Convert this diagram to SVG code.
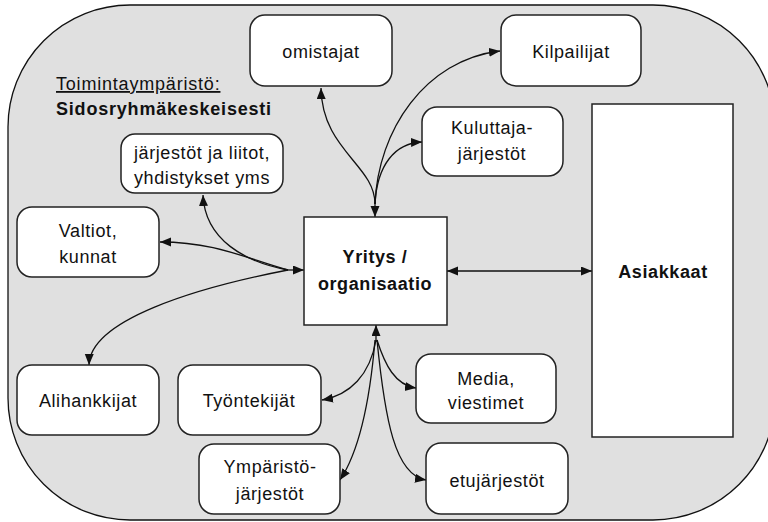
<svg xmlns="http://www.w3.org/2000/svg" width="768" height="522" viewBox="0 0 768 522">
  <style>
    .env { fill: #e0e0e0; stroke: #111; stroke-width: 1.3; }
    .box { fill: #fff; stroke: #222; stroke-width: 1.5; }
    .lbl { font-family: "Liberation Sans", Arial, sans-serif; font-size: 18px; fill: #111; text-anchor: middle; letter-spacing: 0.6px; }
    .bold { font-weight: bold; }
    .head { font-family: "Liberation Sans", Arial, sans-serif; font-size: 18px; fill: #111; letter-spacing: 0.8px; }
    .con { fill: none; stroke: #111; stroke-width: 1.3; }
  </style>
  <defs>
    <marker id="arrow" markerUnits="userSpaceOnUse" markerWidth="12" markerHeight="10" refX="11" refY="4.5" orient="auto-start-reverse">
      <path d="M0,0 L11,4.5 L0,9 z" fill="#111"/>
    </marker>
  </defs>

  <!-- operating environment -->
  <rect class="env" x="8" y="5" width="767" height="515" rx="122" ry="122"/>
  <text class="head" x="56" y="90" text-decoration="underline">Toimintaympäristö:</text>
  <text class="head bold" x="56" y="115">Sidosryhmäkeskeisesti</text>

  <!-- connectors -->
  <g id="connectors">
    <!-- top hub -->
    <path class="con" d="M375,202 L375,217" marker-end="url(#arrow)"/>
    <path class="con" d="M375,204 C375,165 322,150 321,88" marker-end="url(#arrow)"/>
    <path class="con" d="M375,204 C378,130 425,60 500,51" marker-end="url(#arrow)"/>
    <path class="con" d="M375,204 C377,165 395,143 422,142" marker-end="url(#arrow)"/>
    <!-- left hub -->
    <path class="con" d="M288,270 L304,270" marker-end="url(#arrow)"/>
    <path class="con" d="M288,270 C245,262 205,240 203,195" marker-end="url(#arrow)"/>
    <path class="con" d="M288,270 C245,258 215,242 160,242" marker-end="url(#arrow)"/>
    <path class="con" d="M288,270 C195,288 90,320 89,365" marker-end="url(#arrow)"/>
    <!-- customers -->
    <path class="con" d="M447,271 L592,271" marker-start="url(#arrow)" marker-end="url(#arrow)"/>
    <!-- bottom hub -->
    <path class="con" d="M376,342 L376,325" marker-end="url(#arrow)"/>
    <path class="con" d="M376,340 C370,375 350,395 322,400" marker-end="url(#arrow)"/>
    <path class="con" d="M375,340 C370,400 360,450 340,480" marker-end="url(#arrow)"/>
    <path class="con" d="M377,340 C385,365 395,385 416,388" marker-end="url(#arrow)"/>
    <path class="con" d="M377,340 C385,420 395,475 426,480" marker-end="url(#arrow)"/>
  </g>

  <g id="omistajat">
    <rect class="box" x="250" y="15" width="142" height="71" rx="15"/>
    <text class="lbl" x="321" y="58">omistajat</text>
  </g>
  <g id="kilpailijat">
    <rect class="box" x="501" y="15" width="140" height="71" rx="15"/>
    <text class="lbl" x="571" y="58">Kilpailijat</text>
  </g>
  <g id="kuluttajajarjestot">
    <rect class="box" x="422" y="107" width="141" height="69" rx="15"/>
    <text class="lbl" x="492" y="134">Kuluttaja-</text>
    <text class="lbl" x="492" y="160">järjestöt</text>
  </g>
  <g id="jarjestot">
    <rect class="box" x="121" y="134" width="162" height="59" rx="14"/>
    <text class="lbl" x="202" y="159">järjestöt ja liitot,</text>
    <text class="lbl" x="202" y="184">yhdistykset yms</text>
  </g>
  <g id="valtiot">
    <rect class="box" x="17" y="207" width="142" height="70" rx="15"/>
    <text class="lbl" x="88" y="237">Valtiot,</text>
    <text class="lbl" x="88" y="263">kunnat</text>
  </g>
  <g id="yritys">
    <rect class="box" x="304" y="217" width="143" height="108"/>
    <text class="lbl bold" x="375" y="263">Yritys /</text>
    <text class="lbl bold" x="375" y="290">organisaatio</text>
  </g>
  <g id="asiakkaat">
    <rect class="box" x="592" y="104" width="141" height="333"/>
    <text class="lbl bold" x="663" y="278">Asiakkaat</text>
  </g>
  <g id="alihankkijat">
    <rect class="box" x="17" y="365" width="142" height="70" rx="15"/>
    <text class="lbl" x="88" y="407">Alihankkijat</text>
  </g>
  <g id="tyontekijat">
    <rect class="box" x="178" y="365" width="143" height="70" rx="15"/>
    <text class="lbl" x="249" y="407">Työntekijät</text>
  </g>
  <g id="ymparistojarjestot">
    <rect class="box" x="199" y="444" width="141" height="70" rx="15"/>
    <text class="lbl" x="270" y="473">Ympäristö-</text>
    <text class="lbl" x="270" y="500">järjestöt</text>
  </g>
  <g id="media">
    <rect class="box" x="416" y="354" width="140" height="69" rx="15"/>
    <text class="lbl" x="486" y="385">Media,</text>
    <text class="lbl" x="486" y="409">viestimet</text>
  </g>
  <g id="etujarjestot">
    <rect class="box" x="426" y="443" width="142" height="71" rx="15"/>
    <text class="lbl" x="497" y="487">etujärjestöt</text>
  </g>
</svg>
